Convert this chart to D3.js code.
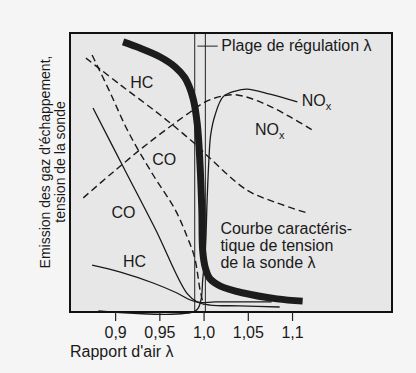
<!DOCTYPE html>
<html>
<head>
<meta charset="utf-8">
<script src="https://cdn.jsdelivr.net/npm/d3@7"></script>
<style>
  body { margin: 0; background: #f5f5f5; }
  svg { display: block; font-family: "Liberation Sans", Arial, sans-serif; }
</style>
</head>
<body>
<div id="chart"></div>
<script>
// x = rapport d'air lambda, y = relative level (0..100)
const tickValues = [0.9, 0.95, 1.0, 1.05, 1.1];
const tickLabels = ["0,9", "0,95", "1,0", "1,05", "1,1"];
const bandLambda = [0.990, 1.002]; // plage de regulation

// tension de la sonde (thick curve)
const sonde = [[0.909, 96.8], [0.928, 94.6], [0.951, 91.4], [0.968, 87.8], [0.979, 83.9],
  [0.988, 76.7], [0.993, 67.0], [0.996, 52.7], [0.998, 36.6], [0.999, 22.0],
  [1.002, 15.8], [1.007, 12.0], [1.019, 9.3], [1.045, 6.8], [1.083, 4.7], [1.112, 3.9]];

// dashed curves
const hcDashed = [[0.867, 91.0], [0.906, 81.4], [0.951, 70.6], [0.988, 60.9], [1.007, 55.2],
  [1.049, 43.7], [1.083, 39.1], [1.117, 35.5]];
const coDashed = [[0.874, 92.1], [0.894, 78.9], [0.915, 64.5], [0.943, 49.1], [0.968, 36.6],
  [0.982, 26.5], [0.990, 19.4], [0.996, 7.9], [1.000, 2.5]];
const noxDashed = [[0.864, 40.9], [0.898, 50.2], [0.939, 60.9], [0.985, 71.7], [1.002, 75.3],
  [1.021, 77.4], [1.038, 77.8], [1.067, 74.9], [1.098, 69.9], [1.123, 65.2]];

// solid curves
const coSolid = [[0.875, 73.1], [0.911, 50.9], [0.946, 29.4], [0.981, 6.8], [0.993, 3.6],
  [1.007, 2.5], [1.041, 2.2], [1.086, 1.8]];
const hcSolid = [[0.874, 16.8], [0.906, 14.3], [0.943, 10.4], [0.970, 6.8], [0.985, 4.3],
  [0.996, 3.4], [1.013, 3.6], [1.077, 3.6]];
const noxSolid = [[0.881, 0.4], [0.991, 0.4], [0.997, 4.3], [0.999, 11.5], [1.002, 22.2],
  [1.004, 40.1], [1.006, 54.5], [1.008, 63.4], [1.013, 70.6], [1.022, 77.1], [1.036, 79.2],
  [1.049, 79.9], [1.075, 78.1], [1.106, 75.3]];

const margin = { top: 33, right: 24, bottom: 61, left: 70 };
const width = 416 - margin.left - margin.right;
const height = 373 - margin.top - margin.bottom;

const svg = d3.select("#chart")
  .append("svg")
  .attr("width", 416)
  .attr("height", 373);

const g = svg.append("g")
  .attr("transform", `translate(${margin.left},${margin.top})`);

const x = d3.scaleLinear().domain([0.849, 1.213]).range([0, width]);
const y = d3.scaleLinear().domain([0, 100]).range([height, 0]);

// plot background
g.append("rect")
  .attr("width", width)
  .attr("height", height)
  .attr("fill", "#e7e7e7");

// regulation band
g.selectAll("line.band")
  .data(bandLambda)
  .enter()
  .append("line")
  .attr("class", "band")
  .attr("x1", d => x(d)).attr("x2", d => x(d))
  .attr("y1", 0).attr("y2", height)
  .attr("stroke", "#222")
  .attr("stroke-width", 1);

const line = d3.line()
  .x(d => x(d[0]))
  .y(d => y(d[1]))
  .curve(d3.curveCatmullRom.alpha(0.5));

[hcDashed, coDashed, noxDashed].forEach(s => {
  g.append("path")
    .attr("d", line(s))
    .attr("fill", "none")
    .attr("stroke", "#1a1a1a")
    .attr("stroke-width", 1.4)
    .attr("stroke-dasharray", "7,4");
});

[coSolid, hcSolid, noxSolid].forEach(s => {
  g.append("path")
    .attr("d", line(s))
    .attr("fill", "none")
    .attr("stroke", "#1a1a1a")
    .attr("stroke-width", 1.3);
});

// sensor voltage curve
g.append("path")
  .attr("d", line(sonde))
  .attr("fill", "none")
  .attr("stroke", "#1c1c1c")
  .attr("stroke-width", 7);

// labels
const labels = [
  { t: "HC", l: 0.917, v: 80.3 },
  { t: "CO", l: 0.942, v: 52.7 },
  { t: "CO", l: 0.896, v: 33.7 },
  { t: "HC", l: 0.909, v: 16.1 },
  { t: "NO", sub: "x", l: 1.111, v: 73.8 },
  { t: "NO", sub: "x", l: 1.058, v: 63.4 }
];
labels.forEach(d => {
  const txt = g.append("text")
    .attr("x", x(d.l))
    .attr("y", y(d.v))
    .attr("font-size", 16)
    .attr("fill", "#1a1a1a")
    .text(d.t);
  if (d.sub) {
    txt.append("tspan").attr("font-size", 11).attr("dy", 4).text(d.sub);
  }
});

// Plage de regulation label with leader
g.append("line")
  .attr("x1", x(0.993)).attr("x2", x(1.016))
  .attr("y1", y(95.3)).attr("y2", y(95.3))
  .attr("stroke", "#222");
g.append("text")
  .attr("x", x(1.020))
  .attr("y", y(93.5))
  .attr("font-size", 16)
  .attr("fill", "#1a1a1a")
  .text("Plage de régulation λ");

const courbe = g.append("text")
  .attr("x", x(1.019))
  .attr("y", y(28.0))
  .attr("font-size", 16)
  .attr("fill", "#1a1a1a");
["Courbe caractéris-", "tique de tension", "de la sonde λ"].forEach((s, i) => {
  courbe.append("tspan").attr("x", x(1.019)).attr("dy", i ? 17 : 0).text(s);
});

// frame
g.append("rect")
  .attr("width", width)
  .attr("height", height)
  .attr("fill", "none")
  .attr("stroke", "#111")
  .attr("stroke-width", 2);

// x axis
const xAxis = g.append("g")
  .attr("transform", `translate(0,${height})`)
  .call(d3.axisBottom(x)
    .tickValues(tickValues)
    .tickFormat((d, i) => tickLabels[i])
    .tickSize(9)
    .tickPadding(6));
xAxis.select(".domain").remove();
xAxis.selectAll("line").attr("stroke", "#222").attr("stroke-width", 1.2);
xAxis.selectAll("text")
  .attr("font-size", 16)
  .attr("font-family", "Liberation Sans, Arial, sans-serif")
  .attr("fill", "#1a1a1a");

svg.append("text")
  .attr("x", 70)
  .attr("y", 357)
  .attr("font-size", 16)
  .attr("fill", "#1a1a1a")
  .text("Rapport d'air λ");

// y axis label
const ylab = svg.append("text")
  .attr("transform", "translate(50,162) rotate(-90)")
  .attr("text-anchor", "middle")
  .attr("font-size", 14)
  .attr("fill", "#1a1a1a");
ylab.append("tspan").attr("x", 0).attr("y", 0).text("Emission des gaz d'échappement,");
ylab.append("tspan").attr("x", 0).attr("y", 15).text("tension de la sonde");
</script>
</body>
</html>
